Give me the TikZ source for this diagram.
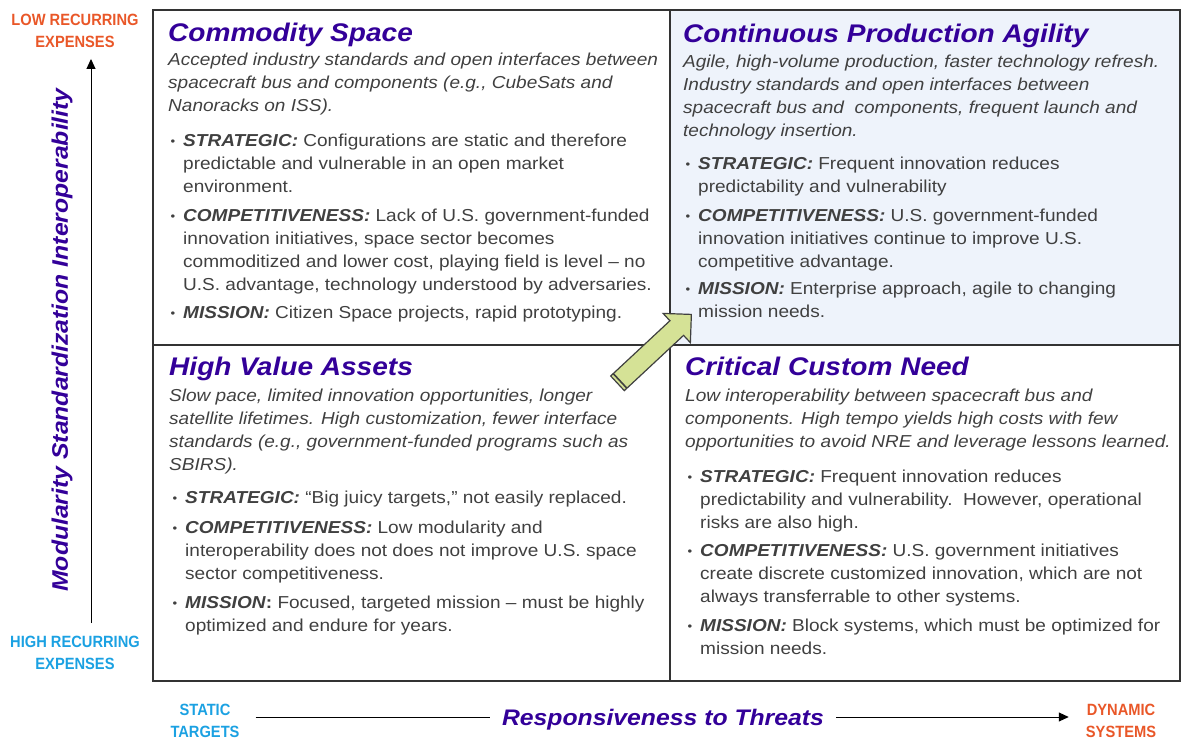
\documentclass[tikz,border=0pt]{standalone}
\usepackage{fontspec}
\setmainfont{Liberation Sans}[FakeStretch=1.1]
\newfontfamily\labelfont{Liberation Sans}[FakeStretch=0.9]
\usepackage{xcolor}
\usepackage{tikz}
\usetikzlibrary{arrows.meta}
\definecolor{titlepurple}{RGB}{51,0,153}
\definecolor{bodygray}{RGB}{64,64,64}
\definecolor{loworange}{RGB}{233,87,40}
\definecolor{highcyan}{RGB}{27,161,226}
\definecolor{agilefill}{RGB}{238,243,251}
\definecolor{arrowgreen}{RGB}{213,226,150}
\newcommand{\quadpar}[1]{\parbox[t]{560pt}{\raggedright\noindent #1}}
\newcommand{\bulhead}[1]{\llap{\raisebox{1pt}{\fontsize{12}{12}\selectfont\textbullet}\hspace{8pt}}\textbf{\textit{#1}}}

\begin{document}
\begin{tikzpicture}[x=1pt, y=1pt,
  quadtitle/.style={anchor=base west, inner sep=0, text=titlepurple, font=\fontsize{25.5}{30}\selectfont\bfseries\itshape},
  quaddesc/.style={anchor=base west, inner sep=0, text=bodygray, font=\fontsize{17.3}{23}\selectfont\itshape},
  quadpoint/.style={anchor=base west, inner sep=0, text=bodygray, font=\fontsize{17.3}{23}\selectfont},
  cornerlabel/.style={align=center, inner sep=0, font=\labelfont\fontsize{16.3}{22}\selectfont\bfseries},
  axislabel/.style={inner sep=0, text=titlepurple, font=\fontsize{22.5}{27}\selectfont\bfseries\itshape},
  gridline/.style={line width=1.4pt, draw=black!80},
  axisarrow/.style={line width=1pt, -{Triangle[length=10pt, width=9pt]}}]

\useasboundingbox (0,0) rectangle (1181,740);

\fill[agilefill] (670,395) rectangle (1180,730);
\draw[gridline] (153,59) rectangle (1180,730);
\draw[gridline] (670,59) -- (670,730);
\draw[gridline] (153,395) -- (1180,395);

\node[quadtitle] (cstitle) at (168,698) {Commodity Space};
\node[quaddesc] (csdesc) at (168,674) {\quadpar{Accepted industry standards and open interfaces between\\
  spacecraft bus and components (e.g., CubeSats and\\ Nanoracks on ISS).}};
\node[quadpoint] (csstrat) at (183,593) {\quadpar{\bulhead{STRATEGIC:} Configurations are static and therefore\\
  predictable and vulnerable in an open market\\ environment.}};
\node[quadpoint] (cscomp) at (183,518) {\quadpar{\bulhead{COMPETITIVENESS:} Lack of U.S. government-funded\\
  innovation initiatives, space sector becomes\\ commoditized and lower cost, playing field is level -- no\\
  U.S. advantage, technology understood by adversaries.}};
\node[quadpoint] (csmiss) at (183,421) {\quadpar{\bulhead{MISSION:} Citizen Space projects, rapid prototyping.}};

\node[quadtitle] (cpatitle) at (683,697) {Continuous Production Agility};
\node[quaddesc] (cpadesc) at (683,672) {\quadpar{Agile, high-volume production, faster technology refresh.\\
  Industry standards and open interfaces between\\ spacecraft bus and\ \ components, frequent launch and\\
  technology insertion.}};
\node[quadpoint] (cpastrat) at (698,570) {\quadpar{\bulhead{STRATEGIC:} Frequent innovation reduces\\
  predictability and vulnerability}};
\node[quadpoint] (cpacomp) at (698,518) {\quadpar{\bulhead{COMPETITIVENESS:} U.S. government-funded\\
  innovation initiatives continue to improve U.S.\\ competitive advantage.}};
\node[quadpoint] (cpamiss) at (698,445) {\quadpar{\bulhead{MISSION:} Enterprise approach, agile to changing\\
  mission needs.}};

\node[quadtitle] (hvatitle) at (169,364) {High Value Assets};
\node[quaddesc] (hvadesc) at (169,338) {\quadpar{Slow pace, limited innovation opportunities, longer\\
  satellite lifetimes. High customization, fewer interface\\ standards (e.g., government-funded programs such as\\
  SBIRS).}};
\node[quadpoint] (hvastrat) at (185,237) {\quadpar{\bulhead{STRATEGIC:} “Big juicy targets,” not easily replaced.}};
\node[quadpoint] (hvacomp) at (185,207) {\quadpar{\bulhead{COMPETITIVENESS:} Low modularity and\\
  interoperability does not does not improve U.S. space\\ sector competitiveness.}};
\node[quadpoint] (hvamiss) at (185,132) {\quadpar{\bulhead{MISSION}\textbf{:} Focused, targeted mission -- must be highly\\
  optimized and endure for years.}};

\node[quadtitle] (ccntitle) at (685,364) {Critical Custom Need};
\node[quaddesc] (ccndesc) at (685,338) {\quadpar{Low interoperability between spacecraft bus and\\
  components. High tempo yields high costs with few\\ opportunities to avoid NRE and leverage lessons learned.}};
\node[quadpoint] (ccnstrat) at (700,258) {\quadpar{\bulhead{STRATEGIC:} Frequent innovation reduces\\
  predictability and vulnerability.\ \ However, operational\\ risks are also high.}};
\node[quadpoint] (ccncomp) at (700,184) {\quadpar{\bulhead{COMPETITIVENESS:} U.S. government initiatives\\
  create discrete customized innovation, which are not\\ always transferrable to other systems.}};
\node[quadpoint] (ccnmiss) at (700,109) {\quadpar{\bulhead{MISSION:} Block systems, which must be optimized for\\
  mission needs.}};

\begin{scope}[shift={(617.5,356.7)}, rotate=43]
  \filldraw[fill=arrowgreen, draw=black!75, line width=1.2pt, line join=miter]
    (0,-10) -- (81,-10) -- (81,-20) -- (101,0) -- (81,20) -- (81,10) -- (0,10) -- cycle;
  \draw[black!75, line width=1.6pt] (3.5,-10) -- (3.5,10);
\end{scope}

\coordinate (axisx) at (91,0);
\node[cornerlabel, text=loworange] (lowexp) at (75,709) {LOW RECURRING\\EXPENSES};
\node[cornerlabel, text=highcyan] (highexp) at (75,87) {HIGH RECURRING\\EXPENSES};
\draw[axisarrow, shorten <=13pt, shorten >=11pt] (highexp.north -| axisx) -- (lowexp.south -| axisx);
\node[axislabel, rotate=90] (modlabel) at (62,400) {Modularity Standardization Interoperability};

\coordinate (axisy) at (0,23);
\node[cornerlabel, text=highcyan] (static) at (205,19) {STATIC\\TARGETS};
\node[axislabel] (threats) at (663,20) {Responsiveness to Threats};
\node[cornerlabel, text=loworange] (dynamic) at (1121,19) {DYNAMIC\\SYSTEMS};
\draw[line width=1pt, shorten <=16pt, shorten >=12pt] (static.east |- axisy) -- (threats.west |- axisy);
\draw[axisarrow, shorten <=12pt, shorten >=17pt] (threats.east |- axisy) -- (dynamic.west |- axisy);

\end{tikzpicture}
\end{document}
